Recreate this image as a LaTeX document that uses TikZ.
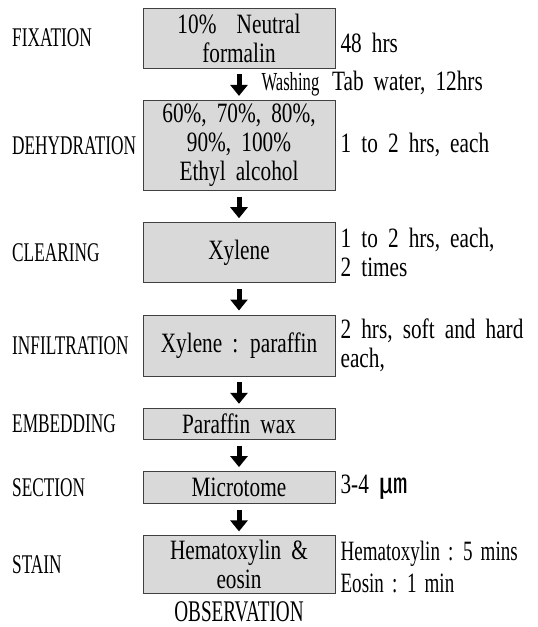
\documentclass[tikz,border=0pt]{standalone}
\usepackage{fontspec}
\setmainfont{Liberation Serif}
\newfontfamily\notefont{Liberation Serif}[FakeStretch=0.76, WordSpace=1.9]
\newfontfamily\stainfont{Liberation Serif}[FakeStretch=0.68, WordSpace=1.7]
\newfontfamily\labelfont{Liberation Serif}[FakeStretch=0.64]
\newfontfamily\cjkfont{Noto Sans CJK KR}
\usetikzlibrary{positioning, arrows.meta}
\definecolor{cBOX}{HTML}{D9D9D9}
\definecolor{cEDGE}{HTML}{404040}
\tikzset{
  stepbox/.style={
    draw=cEDGE, line width=0.8pt,
    fill=cBOX,
    inner sep=2pt,
    align=center,
    minimum width=192pt,
    font=\notefont\fontsize{28}{29}\selectfont
  },
  steplabel/.style={
    anchor=west,
    inner sep=0pt,
    font=\labelfont\fontsize{27}{30}\selectfont
  },
  note/.style={
    anchor=west,
    inner sep=0pt,
    align=left,
    font=\notefont\fontsize{28}{29}\selectfont
  },
  washlabel/.style={
    inner sep=0pt,
    font=\labelfont\fontsize{26}{28}\selectfont
  },
  flow/.style={
    -{Triangle[width=17pt,length=11pt]},
    line width=5pt,
    shorten <=6pt, shorten >=4pt
  }
}

\begin{document}
\begin{tikzpicture}[x=1pt, y=-1pt, node distance=31.5pt]
  \useasboundingbox (0,0) rectangle (538,627);
  \coordinate (lcol) at (12,0);

  % process boxes
  \node[stepbox, minimum height=60pt] (fix) at (239,38) {10\%\ \ Neutral\\formalin};
  \node[stepbox, minimum height=90pt, below=of fix] (dehy) {60\%, 70\%, 80\%,\\90\%, 100\%\\Ethyl alcohol};
  \node[stepbox, minimum height=60pt, below=of dehy] (clear) {Xylene};
  \node[stepbox, minimum height=61pt, below=of clear] (infil) {Xylene : paraffin};
  \node[stepbox, minimum height=31pt, below=of infil] (embed) {Paraffin wax};
  \node[stepbox, minimum height=32pt, below=of embed] (sect) {Microtome};
  \node[stepbox, minimum height=58pt, below=of sect] (stain) {Hematoxylin \&\\eosin};
  \node[steplabel, anchor=base, font=\labelfont\fontsize{30}{32}\selectfont] (obs) at ([yshift=-27pt]stain.south) {OBSERVATION};

  % step names
  \node[steplabel] (lfix) at (lcol |- fix) {FIXATION};
  \node[steplabel] (ldehy) at (lcol |- dehy) {DEHYDRATION};
  \node[steplabel] (lclear) at (lcol |- clear) {CLEARING};
  \node[steplabel] (linfil) at (lcol |- infil) {INFILTRATION};
  \node[steplabel] (lembed) at (lcol |- embed) {EMBEDDING};
  \node[steplabel] (lsect) at (lcol |- sect) {SECTION};
  \node[steplabel] (lstain) at (lcol |- stain) {STAIN};

  % conditions
  \node[note, right=5pt of fix, yshift=-5pt] (nfix) {48 hrs};
  \node[note, right=5pt of dehy] (ndehy) {1 to 2 hrs, each};
  \node[note, right=5pt of clear] (nclear) {1 to 2 hrs, each,\\2 times};
  \node[note, right=5pt of infil] (ninfil) {2 hrs, soft and hard\\each,};
  \node[note, right=5pt of sect] (nsect) {3-4 {\cjkfont ㎛}};
  \node[note, right=5pt of stain, yshift=-2pt, font=\stainfont\fontsize{28}{29}\selectfont] (nstain) {Hematoxylin : 5 mins\\[3pt]Eosin : 1 min};

  \draw[flow] (fix) -- node[washlabel, anchor=west, xshift=20pt] (wash) {Washing} (dehy);
  \node[note, anchor=base west] (nwash) at ([xshift=10pt]wash.base east) {Tab water, 12hrs};
  \draw[flow] (dehy) -- (clear);
  \draw[flow] (clear) -- (infil);
  \draw[flow] (infil) -- (embed);
  \draw[flow] (embed) -- (sect);
  \draw[flow] (sect) -- (stain);
\end{tikzpicture}
\end{document}
